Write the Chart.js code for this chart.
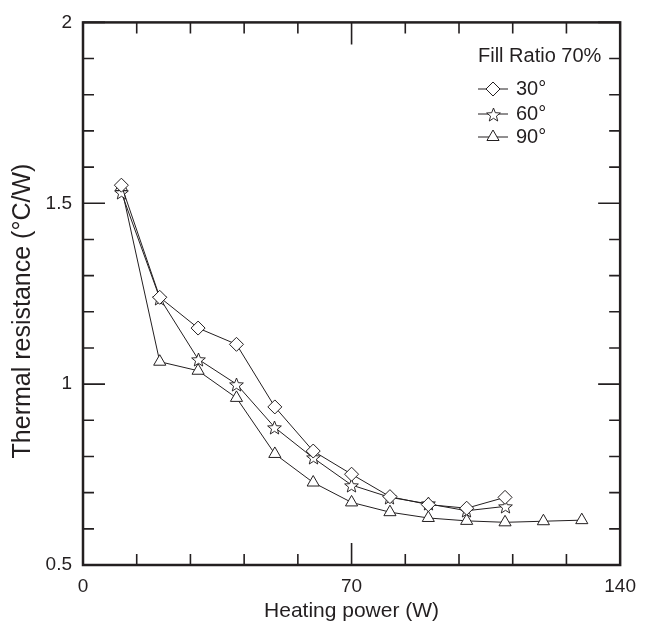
<!DOCTYPE html>
<html><head><meta charset="utf-8">
<script src="https://cdn.jsdelivr.net/npm/chart.js@4.4.1/dist/chart.umd.min.js"></script>
<style>html,body{margin:0;padding:0;background:#fff}canvas{display:block}</style>
</head><body>
<canvas id="c" width="646" height="633"></canvas>
<script>
// ---- data ----
const power30 = [10,20,30,40,50,60,70,80,90,100,110];
const power60 = [10,20,30,40,50,60,70,80,90,100,110];
const power90 = [10,20,30,40,50,60,70,80,90,100,110,120,130];
const r30 = [1.55,1.24,1.155,1.11,0.937,0.815,0.751,0.689,0.667,0.657,0.687];
const r60 = [1.53,1.238,1.069,1.0,0.88,0.796,0.721,0.687,0.669,0.650,0.662];
const r90 = [1.545,1.062,1.037,0.962,0.807,0.728,0.673,0.646,0.630,0.622,0.618,0.621,0.624];
const seriesLabels = ['30°','60°','90°'];
const legendTitle = 'Fill Ratio 70%';
const xTitle = 'Heating power (W)';
const yTitle = 'Thermal resistance (°C/W)';
const xTickLabels = [0,70,140];
const yTickLabels = [0.5,1,1.5,2];

const INK = '#231f20';
const FONT = "'Liberation Sans', Arial, Helvetica, sans-serif";

function makeStar(){
  const c = document.createElement('canvas'); c.width = 17; c.height = 17;
  const g = c.getContext('2d'); const cx = 8.5, cy = 9.2, R = 7.2, r = 3.1;
  g.beginPath();
  for (let i = 0; i < 10; i++) {
    const a = -Math.PI/2 + i*Math.PI/5; const rr = i % 2 ? r : R;
    g.lineTo(cx + rr*Math.cos(a), cy + rr*Math.sin(a));
  }
  g.closePath(); g.fillStyle = '#fff'; g.fill();
  g.strokeStyle = INK; g.lineWidth = 0.95; g.stroke();
  return c;
}
const star = makeStar();

function pts(xs, ys){ return xs.map((x,i)=>({x:x, y:ys[i]})); }

const datasets = [
  {label: seriesLabels[0], data: pts(power30, r30), pointStyle: 'rectRot', pointRadius: 7},
  {label: seriesLabels[1], data: pts(power60, r60), pointStyle: star, pointRadius: 7},
  {label: seriesLabels[2], data: pts(power90, r90), pointStyle: 'triangle', pointRadius: 7}
].map(d => Object.assign(d, {
  borderColor: INK, borderWidth: 1, backgroundColor: '#fff',
  pointBorderColor: INK, pointBackgroundColor: '#fff', pointBorderWidth: 1,
  pointHoverRadius: 7, tension: 0, fill: false
}));

const crispImages = {
  id: 'crispImages',
  beforeDatasetsDraw(chart){ chart.ctx.imageSmoothingEnabled = false; },
  afterDatasetsDraw(chart){ chart.ctx.imageSmoothingEnabled = true; }
};

const frameTicks = {
  id: 'frameTicks',
  afterDraw(chart){
    const {ctx, chartArea: a, scales: {x, y}} = chart;
    ctx.save();
    ctx.strokeStyle = INK; ctx.lineWidth = 1.6; ctx.lineCap = 'butt';
    for (let i = 0; i <= 10; i++) {
      const v = i*14; const px = x.getPixelForValue(v);
      const len = (v % 70 === 0) ? 22 : 11;
      ctx.beginPath();
      ctx.moveTo(px, a.bottom); ctx.lineTo(px, a.bottom - len);
      ctx.moveTo(px, a.top); ctx.lineTo(px, a.top + len);
      ctx.stroke();
    }
    for (let i = 0; i <= 15; i++) {
      const v = 0.5 + i*0.1; const py = y.getPixelForValue(v);
      const len = (i % 5 === 0) ? 22 : 11;
      ctx.beginPath();
      ctx.moveTo(a.left, py); ctx.lineTo(a.left + len, py);
      ctx.moveTo(a.right, py); ctx.lineTo(a.right - len, py);
      ctx.stroke();
    }
    ctx.lineWidth = 2.5;
    ctx.strokeRect(a.left, a.top, a.right - a.left, a.bottom - a.top);

    // legend
    ctx.fillStyle = INK;
    ctx.font = '20px ' + FONT;
    ctx.textBaseline = 'middle'; ctx.textAlign = 'left';
    ctx.fillText(legendTitle, 478, 56);
    const rows = [89, 114, 137];
    chart.data.datasets.forEach((d, i) => {
      const yy = rows[i];
      ctx.lineWidth = 1; ctx.strokeStyle = INK;
      ctx.beginPath(); ctx.moveTo(478, yy); ctx.lineTo(508, yy); ctx.stroke();
      ctx.fillStyle = '#fff';
      ctx.imageSmoothingEnabled = false;
      Chart.helpers.drawPoint(ctx, {pointStyle: d.pointStyle, radius: 7, borderWidth: 1, rotation: 0}, 493, yy);
      ctx.imageSmoothingEnabled = true;
      ctx.fillStyle = INK;
      ctx.font = '20px ' + FONT;
      ctx.fillText(d.label, 516, yy);
    });
    ctx.restore();
  }
};

new Chart(document.getElementById('c'), {
  type: 'line',
  data: {datasets},
  options: {
    responsive: false, animation: false, devicePixelRatio: 1,
    layout: {padding: {left: 0, top: 16, right: 17, bottom: 0}},
    plugins: {legend: {display: false}, tooltip: {enabled: false}},
    scales: {
      x: {
        type: 'linear', min: 0, max: 140,
        afterBuildTicks: s => { s.ticks = xTickLabels.map(v => ({value: v})); },
        afterFit: s => { s.height = 68; },
        grid: {display: false, drawTicks: false},
        border: {display: false},
        ticks: {padding: 10, color: INK, font: {family: FONT, size: 19}, maxRotation: 0,
                callback: v => String(v)},
        title: {display: true, text: xTitle, color: INK, font: {family: FONT, size: 21}, padding: {top: 0, bottom: 9}}
      },
      y: {
        type: 'linear', min: 0.5, max: 2,
        afterBuildTicks: s => { s.ticks = yTickLabels.map(v => ({value: v})); },
        afterFit: s => { s.width = 83; },
        grid: {display: false, drawTicks: false},
        border: {display: false},
        ticks: {padding: 11, color: INK, font: {family: FONT, size: 19},
                callback: v => String(v)},
        title: {display: true, text: yTitle + '     ', color: INK, font: {family: FONT, size: 25}, padding: {top: 8, bottom: 0}}
      }
    }
  },
  plugins: [crispImages, frameTicks]
});
</script>
</body></html>
